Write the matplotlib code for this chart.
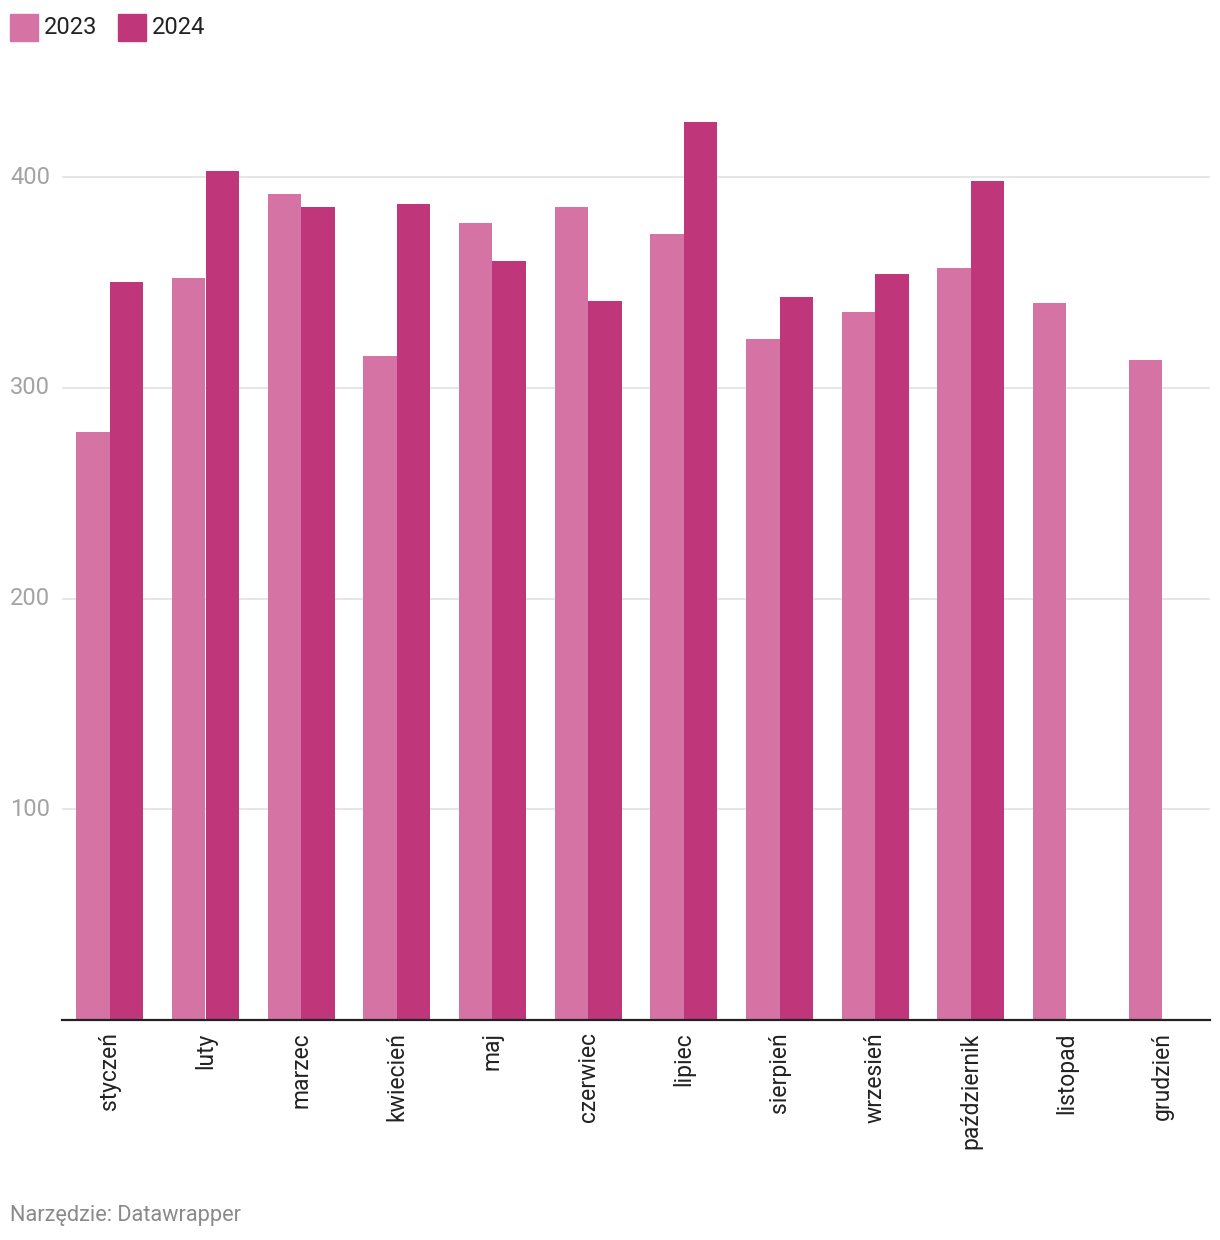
import matplotlib
matplotlib.use("Agg")
import matplotlib.pyplot as plt
import matplotlib.transforms as mtransforms
from matplotlib.patches import Rectangle
import numpy as np

plt.rcParams['font.family'] = ['Roboto', 'DejaVu Sans']

months = ["styczeń", "luty", "marzec", "kwiecień", "maj", "czerwiec", "lipiec",
          "sierpień", "wrzesień", "październik", "listopad", "grudzień"]
values_2023 = [279, 352, 392, 315, 378, 386, 373, 323, 336, 357, 340, 313]
values_2024 = [350, 403, 386, 387, 360, 341, 426, 343, 354, 398, None, None]
series_names = ["2023", "2024"]
yticks = [100, 200, 300, 400]
source = "Narzędzie: Datawrapper"

c2023 = "#d473a4"
c2024 = "#bf367b"

fig = plt.figure(figsize=(12.2, 12.4), dpi=100)
ax = fig.add_axes([62/1220, 220/1240, 1148/1220, (1020-92.7)/1240])

x = np.arange(len(months))
w = 0.35
v23 = [np.nan if v is None else v for v in values_2023]
v24 = [np.nan if v is None else v for v in values_2024]
ax.bar(x - w/2, v23, width=w, color=c2023, zorder=2, linewidth=0)
ax.bar(x + w/2, v24, width=w, color=c2024, zorder=2, linewidth=0)

ax.set_xlim(-0.5, 11.5)
ax.set_ylim(0, 440)
for s in ["top", "right", "left"]:
    ax.spines[s].set_visible(False)
ax.spines["bottom"].set_color("#222222")
ax.spines["bottom"].set_linewidth(1.6)
ax.spines["bottom"].set_zorder(3)

ax.set_yticks(yticks)
ax.yaxis.grid(True, color="#e2e2e2", linewidth=1.2, zorder=0)
ax.tick_params(axis="y", length=0, labelleft=False)
trans = mtransforms.blended_transform_factory(fig.transFigure, ax.transData)
for t in yticks:
    ax.text(10/1220, t, str(t), transform=trans, ha="left", va="center",
            fontsize=17, color="#a3a3a3")

ax.set_xticks(x)
ax.set_xticklabels(months, rotation=90, fontsize=16.5, color="#222222", va="top", ha="center")
ax.tick_params(axis="x", length=0, pad=9)
ax.set_axisbelow(True)

# legend
for i, (name, col) in enumerate(zip(series_names, [c2023, c2024])):
    x0 = [10, 118][i]
    fig.patches.append(Rectangle((x0/1220, 1 - 41/1240), 28/1220, 27/1240,
                                 transform=fig.transFigure, color=col))
    fig.text((x0 + 34)/1220, 1 - 27/1240, name, fontsize=17, color="#222222",
             ha="left", va="center")

fig.text(10/1220, 1 - 1215/1240, source, fontsize=15.7, color="#8a8a8a",
         ha="left", va="center")

fig.savefig("out.png", dpi=100, facecolor="white")
